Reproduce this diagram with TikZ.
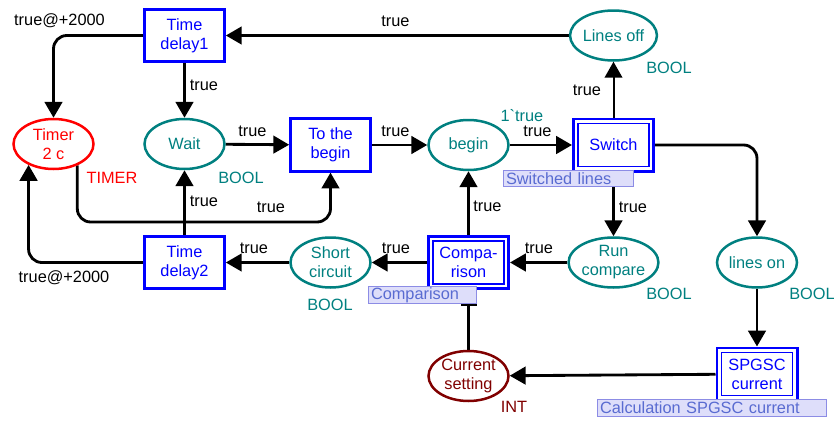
\documentclass[tikz,border=0pt]{standalone}
\usepackage{fontspec}
\setmainfont{Liberation Sans}
\usepackage{tikz}
\usetikzlibrary{positioning,calc,shapes.geometric,arrows.meta}
\pgfdeclarelayer{background}
\pgfdeclarelayer{foreground}
\pgfsetlayers{background,main,foreground}
\definecolor{cpnteal}{rgb}{0, 0.5, 0.5}
\definecolor{cpnblue}{rgb}{0, 0, 1}
\definecolor{cpnred}{rgb}{1, 0, 0}
\definecolor{cpndarkred}{rgb}{0.5, 0, 0}
\definecolor{cpnlblfill}{rgb}{0.87, 0.87, 0.98}
\definecolor{cpnlbldraw}{rgb}{0.55, 0.55, 0.9}
\definecolor{cpnlbltext}{rgb}{0.35, 0.42, 0.82}
\tikzstyle{cpnfont} = [font = \fontsize{9.8}{11.4}\selectfont]
\tikzstyle{place} = [ellipse, draw = cpnteal, text = cpnteal, fill = white, line width = 1.5pt, minimum width = 48pt, minimum height = 30pt, inner sep = 0pt, align = center, cpnfont]
\tikzstyle{trans} = [rectangle, draw = cpnblue, text = cpnblue, fill = white, line width = 1.6pt, minimum width = 48pt, minimum height = 31.5pt, inner sep = 0pt, align = center, cpnfont]
\tikzstyle{subtrans} = [rectangle, draw = cpnblue, text = cpnblue, line width = 0.9pt, minimum width = 42.6pt, minimum height = 25.8pt, inner sep = 0pt, outer sep = 3.6pt, align = center, cpnfont, preaction = {draw = cpnblue, line width = 7.2pt}, preaction = {draw = white, fill = white, line width = 3.8pt}]
\tikzstyle{arc} = [black, line width = 1.7pt, rounded corners = 8pt, -{Triangle[length = 9.5pt, width = 10.5pt]}]
\tikzstyle{inhibit} = [black, line width = 1.7pt, -{Bar[width = 9.6pt, line width = 1.4pt]}, shorten > = 8pt]
\tikzstyle{inscr} = [inner sep = 0pt, cpnfont]
\tikzstyle{pagelbl} = [draw = cpnlbldraw, fill = cpnlblfill, text = cpnlbltext, line width = 0.6pt, inner xsep = 1.5pt, inner ysep = 0pt, minimum height = 10pt, align = left, anchor = west, cpnfont]

\begin{document}
\begin{tikzpicture}[x = 0.6pt, y = -0.6pt]
\useasboundingbox (0, 0) rectangle (834, 421);
\node[place, draw = cpnred, text = cpnred] (timer) at (53.5, 144) {Timer\\2 c};
\node[trans] (delay1) at (184.5, 35.5) {Time\\delay1};
\node[place] (wait) at (184.5, 144) {Wait};
\node[trans] (tobegin) at (330.5, 145) {To the\\begin};
\node[place] (begin) at (468.5, 145) {begin};
\node[subtrans] (switch) at (613.5, 145) {Switch};
\node[place] (loff) at (613.5, 35.5) {Lines off};
\node[trans] (delay2) at (184.5, 262.5) {Time\\delay2};
\node[place] (short) at (330.5, 262.5) {Short\\circuit};
\node[subtrans] (comp) at (468.5, 262.5) {Compa-\\rison};
\node[place] (runcmp) at (613.5, 262.5) {Run\\compare};
\node[place] (lineson) at (757, 262.5) {lines on};
\node[subtrans] (spgsc) at (757, 374) {SPGSC\\current};
\node[place, draw = cpndarkred, text = cpndarkred] (cur) at (468.5, 376) {Current\\setting};
\coordinate (bend1) at (330.5, 222);
% colour sets and initial marking
\node[inscr, text = cpnred] (tTimer) at (112, 178) {TIMER};
\node[inscr, text = cpnteal] (tWait) at (241, 178) {BOOL};
\node[inscr, text = cpnteal] (tLoff) at (669, 68) {BOOL};
\node[inscr, text = cpnteal] (tShort) at (330, 305) {BOOL};
\node[inscr, text = cpnteal] (tRun) at (669, 294) {BOOL};
\node[inscr, text = cpnteal] (tLon) at (812, 294) {BOOL};
\node[inscr, text = cpndarkred] (tCur) at (514, 407) {INT};
\node[inscr, text = cpnteal] (mBegin) at (522, 116) {1\textasciigrave true};
% arc inscriptions
\node[inscr] (a0) at (395.5, 21) {true};
\node[inscr] (a1) at (59.5, 21) {true@+2000};
\node[inscr] (a2) at (204, 85) {true};
\node[inscr] (a3) at (252.5, 131) {true};
\node[inscr] (a4) at (395.5, 131) {true};
\node[inscr] (a5) at (537.5, 131) {true};
\node[inscr] (a6) at (587, 90) {true};
\node[inscr] (a7) at (633, 207) {true};
\node[inscr] (a8) at (487.5, 206) {true};
\node[inscr] (a9) at (204, 201) {true};
\node[inscr] (a10) at (271, 207) {true};
\node[inscr] (a11) at (539, 248) {true};
\node[inscr] (a12) at (396, 248) {true};
\node[inscr] (a13) at (254, 248) {true};
\node[inscr] (a14) at (64, 277.5) {true@+2000};
% page labels
\node[pagelbl, text width = 74.8pt] (pSwitch) at (503, 178.5) {Switched lines};
\node[pagelbl, text width = 61.8pt] (pComp) at (368, 295) {Comparison};
\node[pagelbl, text width = 134.4pt] (pSpgsc) at (597, 408) {Calculation SPGSC current};
\begin{pgfonlayer}{background}
\draw[arc] (loff) -- (delay1);
\draw[arc] (delay1.west) -| (timer.north);
\draw[arc] (delay1) -- (wait);
\draw[arc] (wait) -- (tobegin);
\draw[arc] (tobegin) -- (begin);
\draw[arc] (begin) -- (switch);
\draw[arc, line width = 1.2pt] (switch) -- (loff);
\draw[arc] (switch.east) -| (lineson.north);
\draw[arc] (switch) -- (runcmp);
\draw[arc] (runcmp) -- (comp);
\draw[arc] (comp) -- (begin);
\draw[arc] (comp) -- (short);
\draw[arc] (short) -- (delay2);
\draw[arc] (delay2) -- (wait);
\draw[arc] (delay2.west) -| (timer.220);
\draw[arc] (timer.318) |- (bend1) -- (tobegin.south);
\draw[arc] (lineson) -- (spgsc);
\draw[arc] (spgsc) -- (cur);
\draw[inhibit] (cur) -- (comp);
\end{pgfonlayer}

\end{tikzpicture}
\end{document}
